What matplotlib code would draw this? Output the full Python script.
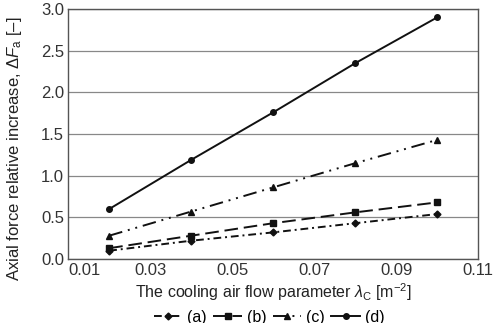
import matplotlib
matplotlib.use("Agg")
import matplotlib.pyplot as plt

plt.rcParams['font.family'] = ['Liberation Sans', 'DejaVu Sans']
plt.rcParams['mathtext.fontset'] = 'custom'
plt.rcParams['mathtext.rm'] = 'Liberation Sans'
plt.rcParams['mathtext.it'] = 'Liberation Sans:italic'

lam = [0.02, 0.04, 0.06, 0.08, 0.10]
a = [0.10, 0.22, 0.32, 0.43, 0.54]
b = [0.13, 0.28, 0.43, 0.56, 0.68]
c = [0.28, 0.57, 0.86, 1.15, 1.43]
d = [0.60, 1.19, 1.76, 2.35, 2.90]
labels = ['(a)', '(b)', '(c)', '(d)']
xticks = [0.01, 0.03, 0.05, 0.07, 0.09, 0.11]
yticks = [0.0, 0.5, 1.0, 1.5, 2.0, 2.5, 3.0]

fig = plt.figure(figsize=(4.94, 3.23), dpi=100)
ax = fig.add_axes([0.138, 0.198, 0.830, 0.774])

k = dict(color='#111111', lw=1.4)
ax.plot(lam, a, marker='D', ms=3.5, dashes=[4, 2, 1, 2], label=labels[0], **k)
ax.plot(lam, b, marker='s', ms=5, dashes=[7, 3], label=labels[1], **k)
ax.plot(lam, c, marker='^', ms=5, dashes=[7, 3, 1, 3, 1, 3], label=labels[2], **k)
ax.plot(lam, d, marker='o', ms=4, linestyle='-', label=labels[3], **k)

ax.set_xlim(0.01, 0.11)
ax.set_ylim(0, 3.0)
ax.set_xticks(xticks)
ax.set_yticks(yticks)
ax.set_xticklabels([f'{v:.2f}' for v in xticks])
ax.set_yticklabels([f'{v:.1f}' for v in yticks])
ax.tick_params(length=0, labelsize=12, colors='#333333', pad=3)
# first x label sits just right of the corner, like the original
ax.get_xticklabels()[0].set_horizontalalignment('left')
ax.yaxis.grid(True, color='#888888', lw=0.9)
ax.set_axisbelow(True)
for s in ax.spines.values():
    s.set_color('#555555')
    s.set_linewidth(1.0)

ax.set_xlabel(r'The cooling air flow parameter $\lambda_{\rm C}$ [m$^{-2}$]',
              fontsize=11.5, color='#222222')
ax.xaxis.set_label_coords(0.5, -0.088)
ax.set_ylabel(r'Axial force relative increase, $\Delta \mathit{F}_{\rm a}$ [–]',
              fontsize=12, color='#222222')
ax.yaxis.set_label_coords(-0.108, 0.44)

ax.legend(loc='center', bbox_to_anchor=(0.49, -0.232), ncol=4, frameon=False,
          fontsize=11.5, handlelength=1.8, handletextpad=0.3, columnspacing=0.4,
          borderpad=0)

fig.savefig('out.png', dpi=100)
